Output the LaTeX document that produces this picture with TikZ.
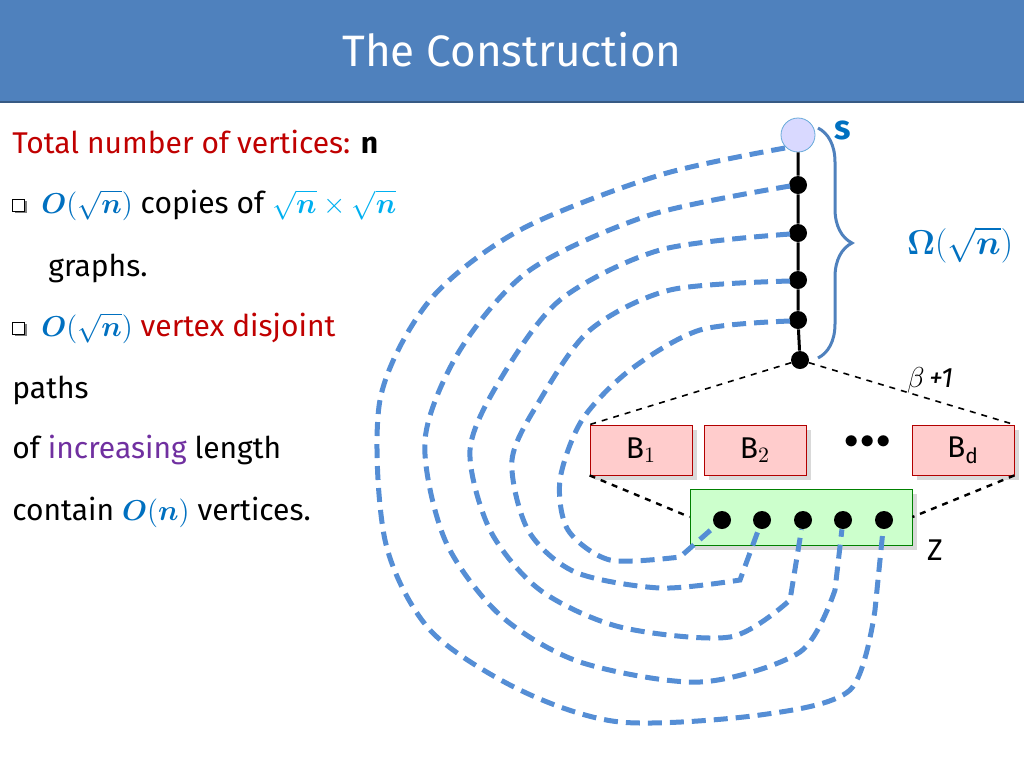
\documentclass[tikz,border=0pt]{standalone}
\usepackage{fontspec}
\usepackage{amsmath,bm}
\setmainfont{Fira Sans}
\usetikzlibrary{decorations.pathreplacing, shadows}
\definecolor{titleblue}{HTML}{4F81BD}
\definecolor{pathblue}{HTML}{558ED5}
\definecolor{txtred}{HTML}{C00000}
\definecolor{txtpurple}{HTML}{7030A0}
\definecolor{mathblue}{HTML}{0070C0}
\definecolor{lightblue}{HTML}{00B0F0}

\newcommand{\chkbox}{\tikz[baseline=-1pt]\draw[fill=white, line width=0.5pt, drop shadow={shadow xshift=1pt, shadow yshift=-1pt, fill=black}] (0,0) rectangle (6pt,6pt);}

\begin{document}
\begin{tikzpicture}[
    x=0.5pt, y=-0.5pt,
    txt/.style={anchor=west, font=\fontsize{15}{18}\selectfont, inner sep=0},
    vtx/.style={circle, fill=black, inner sep=0, minimum size=9pt},
    bbox/.style={draw=red!70!black, fill=red!20, minimum width=51pt, minimum height=25pt, inner sep=0, font=\fontsize{15}{18}\selectfont, drop shadow={opacity=0.3}},
    zdot/.style={circle, fill=black, inner sep=0, minimum size=9pt},
    road/.style={pathblue, line width=2.5pt, dash pattern=on 7pt off 4pt},
    helper/.style={dashed, thick}
]
    \useasboundingbox (0,0) rectangle (1024,768);
    % Title bar
    \fill[titleblue] (0,0) rectangle (1024,102);
    \draw[titleblue!70!black, line width=1pt] (0,102) -- (1024,102);
    \node[white, font=\fontsize{22}{26}\selectfont] (title) at (512,50) {The Construction};

    % Left text
    \node[txt] (l1) at (12,142) {\textcolor{txtred}{Total number of vertices:} \textbf{n}};
    \node[txt] (l2) at (12,205) {\chkbox\ \ $\color{mathblue}\bm{O}(\sqrt{\bm n})$ copies of $\color{lightblue}\sqrt{\bm n}\times\sqrt{\bm n}$};
    \node[txt] (l3) at (48,268) {graphs.};
    \node[txt] (l4) at (12,328) {\chkbox\ \ $\color{mathblue}\bm{O}(\sqrt{\bm n})$ \textcolor{txtred}{vertex disjoint}};
    \node[txt] (l5) at (12,390) {paths};
    \node[txt] (l6) at (12,450) {of \textcolor{txtpurple}{increasing} length};
    \node[txt] (l7) at (12,512) {contain $\color{mathblue}\bm{O}(\bm n)$ vertices.};

    % Z box and B boxes
    \node[draw=green!50!black, fill=green!20, minimum width=111pt, minimum height=28pt, inner sep=0, drop shadow={opacity=0.3}] (zbox) at (801,517) {};
    \node[bbox] (b1) at (641,450) {B$_1$};
    \node[bbox] (b2) at (755,450) {B$_2$};
    \node[bbox] (bd) at (963,450) {B$_\text{d}$};
    \node[font=\Large] (bdots) at (868,442) {$\bullet\!\bullet\!\bullet$};
    \node[font=\fontsize{15}{18}\selectfont] (zlab) at (935,550) {Z};

    % Spine
    \node[vtx] (v1) at (798,185) {};
    \node[vtx] (v2) at (798,233) {};
    \node[vtx] (v3) at (798,280) {};
    \node[vtx] (v4) at (798,320) {};
    \node[vtx] (v5) at (800,360) {};
    \node[circle, draw=mathblue!60, fill=blue!15, minimum size=17pt, inner sep=0] (s) at (798,135) {};
    \node[mathblue, font=\fontsize{17}{19}\selectfont\bfseries] (slab) at (843,130) {s};
    \draw[line width=1.5pt] (s) -- (v1) -- (v2) -- (v3) -- (v4) -- (v5);

    % Z vertices
    \foreach \x [count=\i] in {722,762,803,843,884}
        \node[zdot] (z\i) at (\x,520) {};

    % Brace
    \draw[titleblue, line width=1.5pt, decoration={brace, amplitude=17pt}, decorate] (818,128) -- (818,358);
    \node[mathblue, font=\fontsize{17}{20}\selectfont] (omega) at (960,245) {$\bm{\Omega}(\sqrt{\bm n})$};

    % Helper lines
    \draw[helper] (v5) -- (b1.north west);
    \draw[helper] (v5) -- (bd.north east);
    \node[font=\fontsize{14}{16}\selectfont] (beta) at (930,380) {$\beta$\,\textit{+1}};
    \draw[helper, line width=1.2pt] (b1.south west) -- (zbox.west);
    \draw[helper, line width=1.2pt] (bd.south east) -- (zbox.east);

    % Disjoint paths
    \draw[road] (s) plot[smooth] coordinates {(785,148) (660,175) (520,230) (430,300) (380,400) (385,540) (430,630) (520,690) (620,722) (760,715) (850,690) (875,610)} -- (z5);
    \draw[road] (v1) plot[smooth] coordinates {(790,186) (650,215) (530,270) (460,350) (425,440) (445,540) (500,615) (580,662) (700,682) (800,652) (835,590)} -- (z4);
    \draw[road] (v2) plot[smooth] coordinates {(790,234) (660,250) (560,300) (500,380) (470,450) (490,530) (540,590) (620,627) (730,637) (790,600)} -- (z3);
    \draw[road] (v3) plot[smooth] coordinates {(790,281) (670,290) (590,330) (540,400) (512,460) (528,530) (575,572) (660,588) (740,580)} -- (z2);
    \draw[road] (v4) plot[smooth] coordinates {(790,321) (700,330) (630,370) (582,420) (560,480) (568,530) (610,560) (680,557)} -- (z1);
\end{tikzpicture}
\end{document}
